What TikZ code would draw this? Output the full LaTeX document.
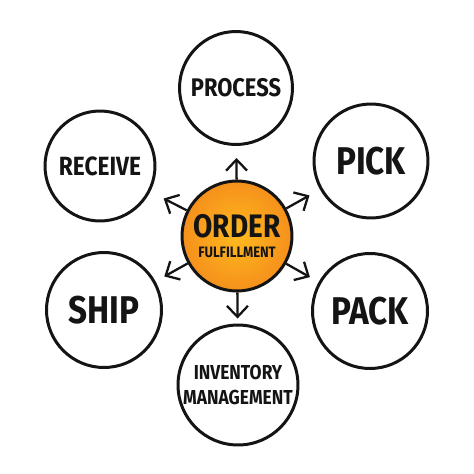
\documentclass[tikz,border=0pt]{standalone}
\usepackage{fontspec}
\setmainfont{Fira Sans}
\newfontfamily\markerfont[FakeStretch=0.86]{Fira Sans}
\usetikzlibrary{arrows.meta}
\definecolor{inkblack}{HTML}{141414}
\definecolor{orangein}{HTML}{FFBA1E}
\definecolor{orangeout}{HTML}{F5901C}
\tikzset{
  step circle/.style={circle,draw=inkblack,line width=1.7pt,fill=white,
    inner sep=0pt,text=inkblack,align=center},
  hub/.style={step circle,inner color=orangein,outer color=orangeout},
  link/.style={draw=inkblack,line width=1.3pt,
    -{Straight Barb[length=2.2mm,width=4.2mm,line width=1.3pt]}}
}
\newcommand{\hand}[1]{\markerfont\bfseries\fontsize{#1}{1.15\dimexpr#1pt\relax}\selectfont}
\begin{document}
\begin{tikzpicture}[x=0.02cm,y=-0.02cm]
  \fill[white] (0,0) rectangle (474,474);
  \node[hub,minimum size=2.2cm] (order) at (237,236)
    {{\hand{18.5}ORDER}\\[-1pt]{\hand{8.6}FULFILLMENT}};
  \node[step circle,minimum size=2.26cm,font=\hand{14.5}] (process) at (236,88) {PROCESS};
  \node[step circle,minimum size=2.2cm,font=\hand{15}] (receive) at (100,166) {RECEIVE};
  \node[step circle,minimum size=2.28cm,font=\hand{22}] (pick) at (371,161) {PICK};
  \node[step circle,minimum size=2.3cm,font=\hand{22}] (ship) at (104,310) {SHIP};
  \node[step circle,minimum size=2.3cm,font=\hand{22}] (pack) at (370,311) {PACK};
  \node[step circle,minimum size=2.4cm,font=\hand{11.5}] (inventory) at (238,385)
    {INVENTORY\\[1pt]MANAGEMENT};
  % arrows out of the hub
  \foreach \n/\s in {process/12,receive/15,pick/12,pack/10,ship/10,inventory/5}
    \draw[link,shorten >={\s*0.02cm}] (order) -- (\n);
\end{tikzpicture}
\end{document}
